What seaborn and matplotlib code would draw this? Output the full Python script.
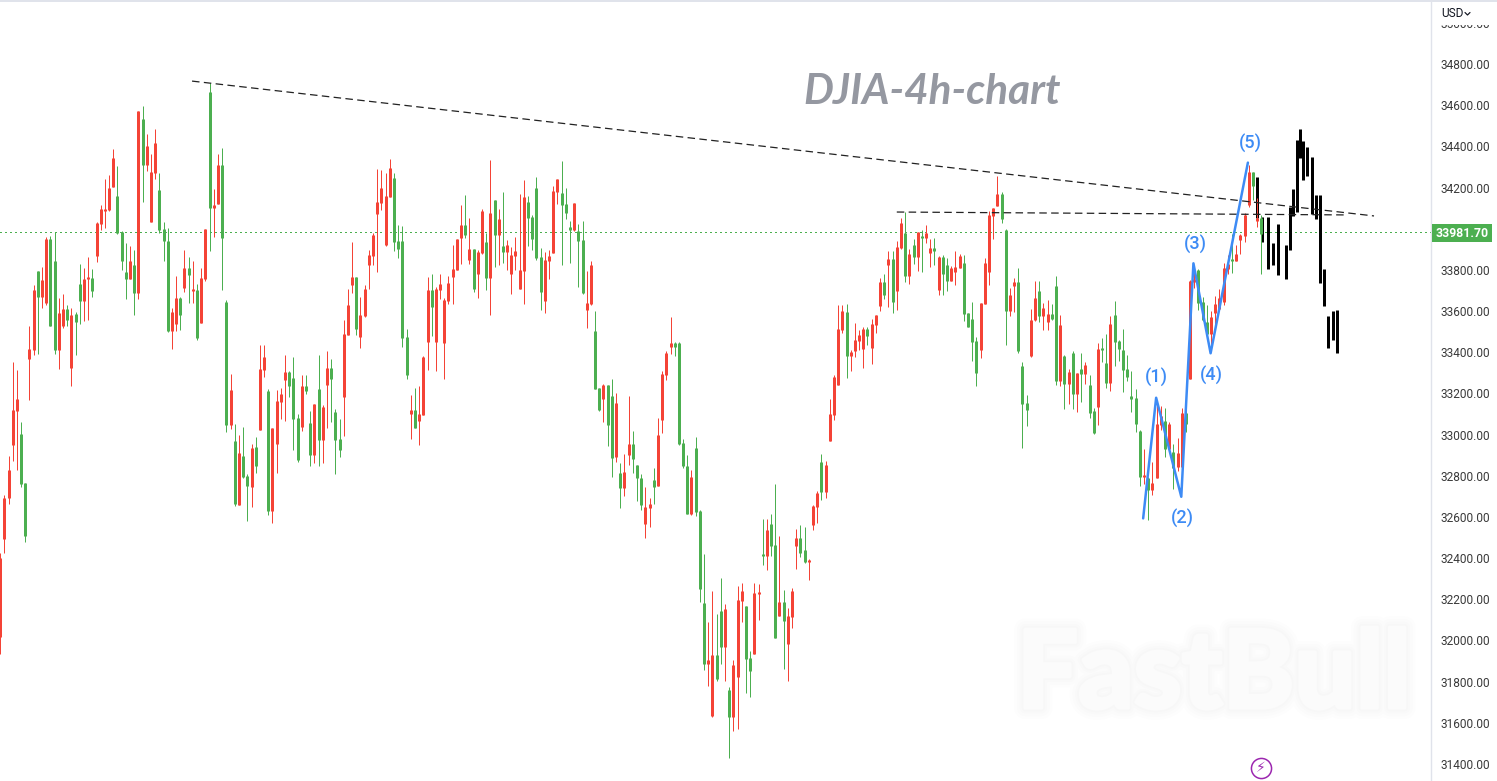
import numpy as np
import matplotlib
matplotlib.use('Agg')
import matplotlib.pyplot as plt
import matplotlib.patheffects as pe
from matplotlib.lines import Line2D
from matplotlib.patches import Rectangle
import seaborn as sns

# ── Data ───────────────────────────────────────────────────────────────────────
# one letter per candle, R = up (red), G = down (green)
directions = (
    "RRRRRGGRRG" "RRGGRRGRGG" "RRGRRRRRGG" "GRGRGRRRGG" "GRRGRGRGRR" "GRRGGRGRGG"
    "RGRRGRRRRG" "GGRGGRGRRG" "GGRRRGRRRR" "RRRRGGGGRG" "RRRGRRRRRR" "RGRGRRGRGR"
    "GRRRRRGGGG" "RRRRGGGRGG" "RRGGRGGRGR" "RGGGRRGRRR" "RGGGGRGGGR" "RGGRGRRRGG"
    "RRGRGGRGRR" "RGGRRRGRRR" "RRGRRRRGRR" "RGRGRRGRGR" "GRRGRGGRRR" "GGGGRRRRRG"
    "GRRGGGRRGR" "RGGRGRGRGR" "GGRGGRGGGG" "GGGRGRRRGR" "GRRGRRGGGR" "RRRRGRRRRG"
    "RG"
)

highs = [
    32425, 32707, 32896, 33353, 33314, 33061, 32765, 33528, 33727, 33795,
    33814, 33960, 33965, 33983, 33664, 33683, 33630, 33615, 33596, 33829,
    33809, 33863, 33804, 34033, 34115, 34242, 34261, 34387, 34305, 33989,
    33931, 33916, 33897, 34572, 34596, 34460, 34363, 34484, 34271, 34033,
    34004, 33615, 33770, 33668, 33897, 33863, 33843, 33732, 33809, 33999,
    34709, 34193, 34363, 34392, 33654, 33294, 33052, 32998, 33037, 32809,
    32954, 32988, 33435, 33435, 33222, 33032, 33217, 33226, 33387, 33309,
    33377, 33100, 33290, 33290, 33115, 33149, 33387, 33144, 33406, 33367,
    33124, 33076, 33557, 33707, 33936, 33766, 33668, 33726, 33896, 33979,
    34290, 34285, 34270, 34338, 34270, 34018, 34013, 33513, 33192, 33226,
    33236, 33381, 33765, 33780, 33717, 33780, 33663, 33770, 33921, 33950,
    34115, 34163, 34052, 33901, 33896, 34095, 33979, 34333, 34139, 34095,
    34178, 33945, 33911, 33959, 34168, 34236, 34159, 34066, 34251, 33906,
    33887, 33896, 34207, 34241, 34329, 34197, 34037, 34125, 34023, 34037,
    33794, 33843, 33600, 33226, 33245, 33241, 33270, 33202, 32862, 32905,
    33187, 33017, 32852, 32808, 32745, 32692, 32837, 33080, 33309, 33406,
    33571, 33449, 33449, 32978, 32901, 32828, 32988, 32634, 32420, 32090,
    32241, 32129, 32304, 32177, 31774, 31905, 32265, 32279, 32168, 31949,
    32279, 32275, 32590, 32590, 32615, 32760, 32508, 32245, 32158, 32255,
    32542, 32561, 32551, 32396, 32658, 32726, 32906, 32872, 33173, 33290,
    33630, 33630, 33635, 33411, 33542, 33508, 33523, 33523, 33562, 33581,
    33761, 33780, 33892, 33892, 33941, 34052, 34081, 33902, 33950, 33984,
    33994, 34018, 33950, 33955, 33868, 33873, 33858, 33819, 33892, 33877,
    33873, 33591, 33644, 33474, 33639, 33858, 34086, 34101, 34256, 34179,
    33999, 33712, 33761, 33809, 33353, 33193, 33610, 33746, 33746, 33639,
    33654, 33635, 33771, 33581, 33387, 33319, 33406, 33299, 33397, 33353,
    33290, 33129, 33445, 33469, 33489, 33576, 33649, 33460, 33513, 33387,
    33309, 33221, 33022, 32930, 32794, 32867, 33158, 33139, 33129, 33061,
    32954, 32983, 33129, 33168, 33751, 33804, 33804, 33668, 33629, 33600,
    33673, 33707, 33833, 33872, 33974, 33921, 33974, 34076, 34309, 34275,
    34149, 34067,
]

body_tops = [
    32401, 32692, 32828, 33120, 33173, 33003, 32765, 33416, 33702, 33795,
    33751, 33950, 33950, 33843, 33591, 33610, 33610, 33581, 33586, 33732,
    33756, 33761, 33761, 34028, 34096, 34096, 34198, 34344, 34159, 33984,
    33790, 33843, 33824, 34572, 34533, 34402, 34276, 34416, 34188, 33999,
    33940, 33596, 33664, 33664, 33809, 33809, 33707, 33702, 33761, 33999,
    34664, 34115, 34310, 34310, 33644, 33217, 32969, 32911, 32896, 32799,
    32935, 32940, 33319, 33377, 33212, 33032, 33163, 33197, 33304, 33304,
    33275, 33081, 33236, 33236, 33056, 33149, 33222, 33134, 33324, 33324,
    33110, 32979, 33489, 33630, 33766, 33766, 33581, 33707, 33872, 33969,
    34129, 34197, 34159, 34295, 34246, 33940, 33940, 33474, 33119, 33119,
    33100, 33377, 33702, 33702, 33707, 33731, 33653, 33736, 33804, 33950,
    34018, 34018, 33901, 33901, 33887, 34086, 33935, 34076, 34139, 34047,
    33916, 33921, 33872, 33891, 33799, 34154, 34129, 34057, 34197, 33862,
    33848, 33867, 34183, 34241, 34173, 34120, 34008, 34125, 33989, 33945,
    33639, 33823, 33503, 33226, 33241, 33241, 33187, 33153, 32813, 32818,
    32954, 32954, 32852, 32789, 32648, 32663, 32779, 32998, 33294, 33396,
    33445, 33445, 33445, 32959, 32847, 32794, 32935, 32629, 32182, 31905,
    31930, 31930, 32143, 32153, 31760, 31881, 32197, 32241, 32168, 31915,
    32231, 32236, 32420, 32537, 32566, 32464, 32187, 32187, 32119, 32241,
    32498, 32498, 32440, 32391, 32653, 32717, 32867, 32853, 33100, 33280,
    33513, 33601, 33596, 33401, 33460, 33484, 33513, 33513, 33537, 33581,
    33741, 33741, 33853, 33853, 33911, 34028, 33978, 33877, 33921, 33984,
    33965, 33978, 33907, 33907, 33863, 33863, 33824, 33809, 33814, 33868,
    33834, 33591, 33562, 33455, 33639, 33834, 34067, 34101, 34169, 34169,
    33994, 33678, 33741, 33741, 33333, 33154, 33557, 33664, 33698, 33615,
    33586, 33586, 33722, 33533, 33382, 33304, 33397, 33299, 33319, 33338,
    33241, 33115, 33416, 33416, 33348, 33537, 33581, 33455, 33411, 33319,
    33188, 33178, 33017, 32799, 32789, 32765, 33051, 33090, 33066, 33051,
    32915, 32911, 33105, 33105, 33746, 33756, 33799, 33644, 33547, 33571,
    33634, 33663, 33809, 33829, 33853, 33877, 33969, 34067, 34275, 34275,
    34052, 34052,
]

body_bottoms = [
    32018, 32493, 32692, 32950, 33115, 32760, 32508, 33367, 33411, 33668,
    33668, 33639, 33528, 33411, 33411, 33528, 33557, 33324, 33547, 33649,
    33649, 33756, 33698, 33868, 34023, 34086, 34091, 34203, 33978, 33843,
    33756, 33756, 33688, 33688, 34310, 34310, 34033, 34271, 33994, 33940,
    33503, 33503, 33537, 33581, 33712, 33775, 33698, 33469, 33542, 33756,
    34101, 34101, 34120, 33955, 33047, 33047, 32663, 32658, 32794, 32750,
    32746, 32848, 33022, 33314, 32629, 32629, 32954, 33158, 33265, 33236,
    33076, 32877, 33037, 33212, 32901, 32901, 32974, 32974, 33241, 33270,
    32974, 32925, 33183, 33484, 33727, 33513, 33474, 33576, 33823, 33867,
    34071, 34125, 33921, 34154, 33935, 33901, 33469, 33289, 33100, 33032,
    33066, 33095, 33449, 33619, 33449, 33702, 33445, 33649, 33765, 33799,
    33955, 33969, 33848, 33707, 33780, 33882, 33760, 33760, 33969, 33969,
    33887, 33887, 33780, 33867, 33707, 33794, 34052, 33950, 33857, 33692,
    33649, 33843, 33882, 34178, 34115, 34076, 33993, 33993, 33940, 33687,
    33605, 33634, 33221, 33119, 33173, 33046, 32886, 32891, 32740, 32740,
    32901, 32881, 32789, 32658, 32565, 32643, 32745, 32750, 33071, 33289,
    33425, 33425, 32954, 32847, 32614, 32614, 32624, 32250, 31886, 31886,
    31633, 31813, 31969, 31969, 31629, 31629, 31823, 32192, 31910, 31852,
    31935, 32226, 32411, 32411, 32459, 32012, 32119, 32095, 31983, 32114,
    32459, 32425, 32381, 32381, 32561, 32649, 32721, 32721, 32969, 33095,
    33241, 33508, 33382, 33382, 33406, 33455, 33416, 33479, 33421, 33533,
    33625, 33678, 33824, 33644, 33698, 33907, 33771, 33771, 33863, 33863,
    33955, 33955, 33882, 33892, 33703, 33780, 33746, 33746, 33790, 33809,
    33586, 33523, 33450, 33299, 33411, 33635, 33790, 34062, 34111, 34047,
    33601, 33601, 33722, 33406, 33149, 33120, 33382, 33557, 33576, 33576,
    33547, 33562, 33261, 33261, 33246, 33246, 33197, 33197, 33295, 33295,
    33105, 33008, 33134, 33411, 33251, 33251, 33450, 33416, 33314, 33280,
    33173, 33051, 32794, 32794, 32731, 32731, 32789, 33047, 32930, 32930,
    32838, 32843, 32843, 33051, 33270, 33741, 33639, 33557, 33489, 33489,
    33591, 33610, 33644, 33804, 33843, 33843, 33945, 33965, 34115, 34207,
    34037, 33974,
]

lows = [
    31934, 32425, 32663, 32872, 32828, 32746, 32478, 33168, 33387, 33392,
    33615, 33630, 33528, 33392, 33319, 33518, 33528, 33236, 33387, 33537,
    33552, 33557, 33668, 33838, 33994, 34004, 34086, 34203, 33974, 33800,
    33659, 33756, 33581, 33659, 34130, 34280, 34033, 34242, 33979, 33843,
    33498, 33416, 33503, 33508, 33693, 33639, 33639, 33460, 33542, 33746,
    33892, 33960, 34120, 33702, 33013, 33027, 32653, 32658, 32789, 32580,
    32648, 32814, 33022, 33280, 32610, 32571, 32814, 33076, 33066, 33183,
    32925, 32867, 33018, 33197, 32848, 32862, 32848, 32862, 33032, 33061,
    32809, 32891, 32993, 33484, 33688, 33484, 33420, 33571, 33707, 33823,
    33789, 34091, 33916, 34154, 33891, 33857, 33425, 33270, 32978, 33032,
    32949, 33095, 33313, 33479, 33309, 33658, 33270, 33634, 33634, 33799,
    33828, 33955, 33828, 33692, 33663, 33877, 33702, 33581, 33814, 33823,
    33833, 33799, 33683, 33799, 33707, 33634, 33916, 33896, 33848, 33605,
    33590, 33755, 33882, 34120, 33823, 34047, 33833, 33989, 33717, 33683,
    33517, 33629, 33221, 33114, 33061, 32944, 32794, 32867, 32643, 32701,
    32852, 32813, 32677, 32633, 32497, 32551, 32663, 32750, 33007, 33265,
    33391, 33381, 32949, 32837, 32614, 32609, 32604, 32187, 31857, 31779,
    31629, 31803, 31886, 31803, 31429, 31561, 31570, 32090, 31745, 31726,
    31935, 32100, 32367, 32343, 32411, 32012, 32119, 31862, 31803, 32061,
    32347, 32406, 32377, 32294, 32537, 32571, 32683, 32692, 32969, 33071,
    33241, 33494, 33275, 33309, 33377, 33411, 33324, 33435, 33343, 33494,
    33601, 33659, 33620, 33591, 33605, 33902, 33741, 33732, 33829, 33795,
    33790, 33931, 33814, 33824, 33678, 33678, 33698, 33746, 33727, 33809,
    33552, 33523, 33358, 33236, 33372, 33635, 33727, 33950, 34111, 34028,
    33435, 33576, 33596, 33397, 32935, 33042, 33377, 33552, 33547, 33508,
    33508, 33557, 33241, 33236, 33125, 33149, 33125, 33110, 33159, 33246,
    33081, 33003, 33047, 33353, 33227, 33212, 33333, 33358, 33207, 33261,
    33110, 33013, 32750, 32760, 32585, 32707, 32789, 33022, 32891, 32930,
    32736, 32823, 32843, 33013, 33270, 33712, 33605, 33552, 33469, 33411,
    33537, 33610, 33629, 33780, 33785, 33843, 33877, 33935, 34105, 34139,
    34008, 33780,
]

# hand drawn black projection bars
proj_pos = [299, 300.2, 301.6, 302.8, 304, 305.9, 306.9, 307.6, 308.5, 309.3,
            310, 310.9, 312.1, 313.1, 314, 315, 315.9, 317.1, 318]
proj_top = [34251, 34058, 34057, 33931, 34023, 33921, 34105, 34193, 34431, 34484,
            34426, 34397, 34348, 34164, 34164, 33804, 33576, 33600, 33605]
proj_bottom = [34052, 33935, 33804, 33824, 33775, 33756, 33897, 34062, 34081, 34343,
               34237, 34256, 34071, 34047, 33736, 33625, 33421, 33459, 33396]

# elliott wave drawing
wave_pos = [271.8, 274.9, 280.9, 283.8, 287.9, 296.8]
wave_price = [32593, 33179, 32698, 33832, 33395, 34321]
wave_labels = ['(1)', '(2)', '(3)', '(4)', '(5)']
wave_label_pos = [275, 281.1, 284.2, 288, 297.4]
wave_label_price = [33275, 32592, 33925, 33285, 34415]

# trend lines
trend1_pos = [44.8, 326.9]
trend1_price = [34717, 34062]
trend2_pos = [213, 320]
trend2_price = [34081, 34067]

last_price = 33981.70
# no 34000.00 label in the picture, the price tag sits there
tick_values = [v for v in range(31400, 35001, 200) if v != 34000]

# ── Style ──────────────────────────────────────────────────────────────────────
RED = '#F44336'
GREEN = '#4CAF50'
BLUE = '#3D8BF5'
GRID = '#E0E3EB'
W, H = 1497, 781
PX = 0.72  # one pixel in points at dpi 100

sns.set_theme(style='white')
plt.rcParams['font.family'] = ['Roboto', 'DejaVu Sans']

fig = plt.figure(figsize=(W / 100, H / 100), dpi=100, facecolor='white')
ax = fig.add_axes([0, 0, 1431 / W, 1])
ax.set_xlim(-1.033, 340.5)
ax.set_ylim(34800 - 717 * 4.857, 34800 + 64 * 4.857)

# ── Candles ────────────────────────────────────────────────────────────────────
xs = np.arange(len(highs)) - 1
colors = [RED if d == 'R' else GREEN for d in directions]
tops = np.array(body_tops)
bottoms = np.array(body_bottoms)

ax.vlines(proj_pos, proj_bottom, proj_top, colors='black', linewidth=PX * 3,
          capstyle='butt', zorder=2)
ax.vlines(xs, lows, highs, colors=colors, linewidth=PX, capstyle='butt', zorder=3)
ax.vlines(xs, bottoms, np.maximum(tops, bottoms + 8), colors=colors, linewidth=PX * 3,
          capstyle='butt', zorder=3)

# ── Lines ──────────────────────────────────────────────────────────────────────
price_line = ax.axhline(last_price, color=GREEN, linewidth=PX,
                        linestyle=(0, (1.4, 3.4)), antialiased=False, zorder=1)
price_line.set_snap(True)
for pos, price in [(trend1_pos, trend1_price), (trend2_pos, trend2_price)]:
    sns.lineplot(x=pos, y=price, ax=ax, color='#222222', linewidth=PX * 1.25,
                 linestyle=(0, (6, 3.5)), sort=False, estimator=None, zorder=4)
sns.lineplot(x=wave_pos, y=wave_price, ax=ax, color=BLUE, linewidth=PX * 2.5,
             sort=False, estimator=None, zorder=5)
for label, pos, price in zip(wave_labels, wave_label_pos, wave_label_price):
    ax.text(pos, price, label, color=BLUE, fontsize=13, fontweight='medium',
            ha='center', va='center', zorder=6)

# ── Axis ───────────────────────────────────────────────────────────────────────
ax.set_xlabel('')
ax.set_ylabel('')
ax.set_xticks([])
ax.yaxis.tick_right()
ax.set_yticks(tick_values)
ax.set_yticklabels([f'{v:.2f}' for v in tick_values])
ax.tick_params(axis='y', length=0, pad=6.5, labelsize=8.6, labelcolor='#3a3a3a')
for side in ['top', 'left', 'bottom']:
    ax.spines[side].set_visible(False)
ax.spines['right'].set_color(GRID)
ax.spines['right'].set_linewidth(PX * 1.4)

# ── Text and furniture ─────────────────────────────────────────────────────────
def fx(px):
    return px / W

def fy(py):
    return 1 - py / H

fig.text(fx(803), fy(104), 'DJIA-4h-chart', color='#9598A1', fontsize=30.4,
         family='Lato', fontweight='bold', fontstyle='italic', ha='left', va='baseline')

mark = fig.text(fx(1214), fy(708), 'FastBull', color='#FBFBFB', fontsize=78,
                family='Lato', fontweight='black', ha='center', va='baseline')
mark.set_path_effects([pe.Stroke(linewidth=w, foreground='#000000', alpha=0.006)
                       for w in (16, 12, 8, 5)] +
                      [pe.Stroke(linewidth=2.5, foreground='#FBFBFB'), pe.Normal()])

# covers the top of the clipped 35000 label, the USD selector sits there
fig.add_artist(Rectangle((fx(1433), fy(25)), fx(64), 25 / H, transform=fig.transFigure,
                         facecolor='white', edgecolor='none', zorder=5))
fig.add_artist(Rectangle((0, fy(2)), 1, 2 / H, transform=fig.transFigure,
                         facecolor=GRID, edgecolor='none', zorder=6))
fig.text(fx(1441), fy(13.5), 'USD', color='#131722', fontsize=8.6, va='center', zorder=7)
fig.add_artist(Line2D([fx(1465), fx(1467.5), fx(1470)], [fy(12.5), fy(15), fy(12.5)],
                      color='#131722', linewidth=PX * 1.2, zorder=7))

# last price tag
fig.add_artist(Rectangle((fx(1432), fy(242)), fx(60), 18 / H, transform=fig.transFigure,
                         facecolor=GREEN, edgecolor='none', zorder=5))
fig.text(fx(1462), fy(233.5), f'{last_price:.2f}', color='white', fontsize=8.8,
         fontweight='bold', ha='center', va='center', zorder=7)

# lightning icon
fig.add_artist(Line2D([fx(1261)], [fy(768)], marker='o', markersize=14.5,
                      markerfacecolor='white', markeredgecolor='#9C27B0',
                      markeredgewidth=1.1, zorder=6))
fig.text(fx(1261), fy(768), '\u26a1', color='#9C27B0', fontsize=10,
         family='DejaVu Sans', ha='center', va='center', zorder=7)

plt.savefig('out.png', dpi=100)
plt.close()
